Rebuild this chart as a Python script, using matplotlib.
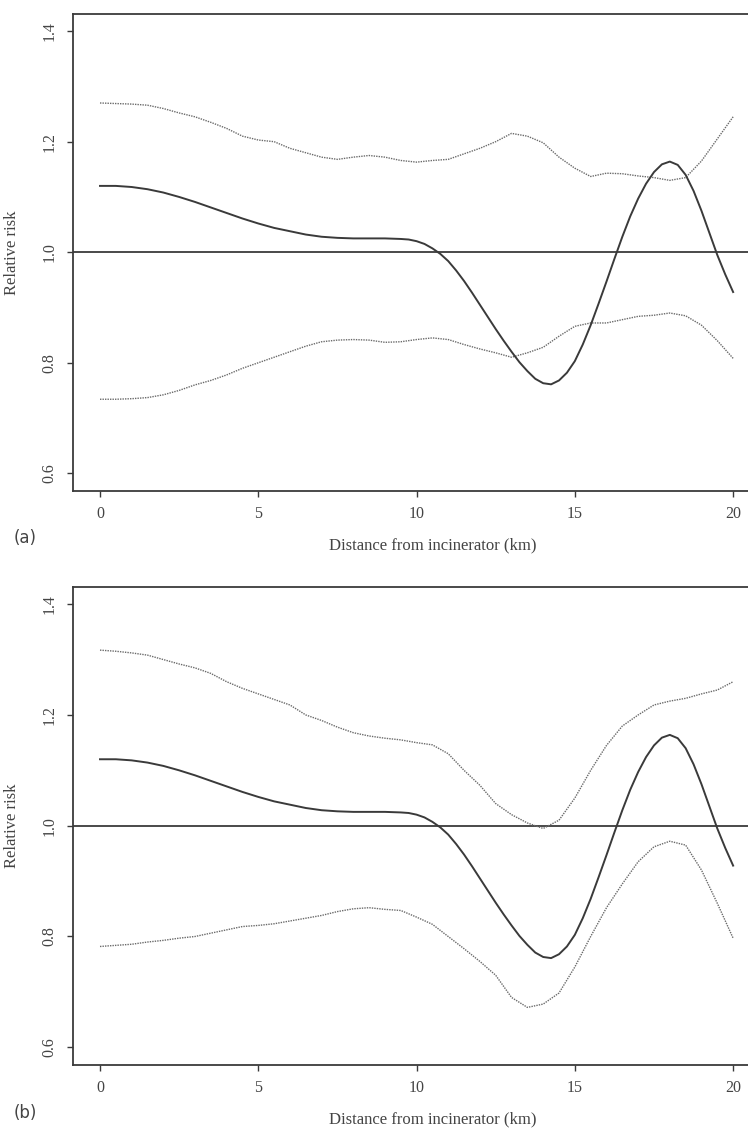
import numpy as np
import matplotlib
matplotlib.use("Agg")
import matplotlib.pyplot as plt
import matplotlib as mpl

mpl.rcParams['font.family'] = ['Liberation Serif', 'DejaVu Serif']

# distance from incinerator (km) for the confidence bands
dist = [0, 0.5, 1, 1.5, 2, 2.5, 3, 3.5, 4, 4.5, 5, 5.5, 6, 6.5, 7, 7.5, 8, 8.5, 9, 9.5,
        10, 10.5, 11, 11.5, 12, 12.5, 13, 13.5, 14, 14.5, 15, 15.5, 16, 16.5, 17, 17.5,
        18, 18.5, 19, 19.5, 20]

# smoothed relative risk (same estimate in both panels), read more densely
dist_est = [0, 0.5, 1, 1.5, 2, 2.5, 3, 3.5, 4, 4.5, 5, 5.5, 6, 6.5, 7, 7.5, 8, 8.5, 9,
            9.5, 9.75, 10, 10.25, 10.5, 10.75, 11, 11.25, 11.5, 11.75, 12, 12.25, 12.5,
            12.75, 13, 13.25, 13.5, 13.75, 14, 14.25, 14.5, 14.75, 15, 15.25, 15.5, 15.75,
            16, 16.25, 16.5, 16.75, 17, 17.25, 17.5, 17.75, 18, 18.25, 18.5, 18.75, 19,
            19.25, 19.5, 19.75, 20]
rr_est = [1.12, 1.12, 1.118, 1.114, 1.108, 1.1, 1.091, 1.081, 1.071, 1.061, 1.052, 1.044,
          1.038, 1.032, 1.028, 1.026, 1.025, 1.025, 1.025,
          1.024, 1.023, 1.02, 1.015, 1.007, 0.997, 0.984, 0.967, 0.948, 0.927, 0.905, 0.883,
          0.861, 0.84, 0.82, 0.801, 0.785, 0.771, 0.763, 0.761, 0.768, 0.782, 0.803, 0.833,
          0.868, 0.907, 0.947, 0.988, 1.028, 1.065, 1.097, 1.124, 1.145, 1.159, 1.164, 1.158,
          1.14, 1.111, 1.075, 1.035, 0.995, 0.96, 0.928]

# panel (a) pointwise band
upper_a = [1.27, 1.269, 1.268, 1.266, 1.26, 1.252, 1.245, 1.235, 1.224, 1.21, 1.203, 1.2,
           1.188, 1.18, 1.172, 1.168, 1.172, 1.175, 1.172, 1.166, 1.163, 1.166, 1.168, 1.178,
           1.188, 1.2, 1.215, 1.21, 1.198, 1.172, 1.152, 1.137, 1.143, 1.142, 1.138, 1.135,
           1.13, 1.135, 1.165, 1.205, 1.245]
lower_a = [0.734, 0.734, 0.735, 0.737, 0.742, 0.75, 0.76, 0.768, 0.778, 0.79, 0.8, 0.81,
           0.82, 0.83, 0.838, 0.841, 0.842, 0.841, 0.837, 0.838, 0.842, 0.845, 0.842, 0.833,
           0.825, 0.818, 0.81, 0.818, 0.828, 0.848, 0.866, 0.872, 0.872, 0.878, 0.884, 0.886,
           0.89, 0.885, 0.868, 0.84, 0.808]

# panel (b) band
upper_b = [1.317, 1.315, 1.312, 1.308, 1.3, 1.292, 1.285, 1.275, 1.26, 1.248, 1.238, 1.228,
           1.218, 1.2, 1.19, 1.178, 1.168, 1.162, 1.158, 1.155, 1.15, 1.146, 1.13, 1.1,
           1.073, 1.04, 1.02, 1.005, 0.995, 1.01, 1.05, 1.1, 1.145, 1.18, 1.2, 1.218,
           1.225, 1.23, 1.238, 1.245, 1.26]
lower_b = [0.782, 0.784, 0.786, 0.79, 0.793, 0.797, 0.8, 0.806, 0.812, 0.818, 0.82, 0.823,
           0.828, 0.833, 0.838, 0.845, 0.85, 0.852, 0.849, 0.847, 0.835, 0.822, 0.8, 0.778,
           0.755, 0.73, 0.69, 0.672, 0.678, 0.698, 0.745, 0.8, 0.852, 0.895, 0.935, 0.962,
           0.972, 0.965, 0.92, 0.86, 0.797]

x_ticks = [0, 5, 10, 15, 20]
y_ticks = [0.6, 0.8, 1.0, 1.2, 1.4]

INK = '#3a3a3a'

fig = plt.figure(figsize=(7.48, 11.30), dpi=100)
ax_a = fig.add_axes([73/748, 1-491/1130, 1-73/748, 477/1130])
ax_b = fig.add_axes([73/748, 1-1065/1130, 1-73/748, 478/1130])

for ax, up, lo, tag, ytag in [(ax_a, upper_a, lower_a, "(a)", 538),
                              (ax_b, upper_b, lower_b, "(b)", 1113)]:
    ax.axhline(1.0, color=INK, lw=1.3)
    ax.plot(dist, up, color='#6a6a6a', lw=1.0, ls=(0, (1, 0.8)))
    ax.plot(dist, lo, color='#6a6a6a', lw=1.0, ls=(0, (1, 0.8)))
    ax.plot(dist_est, rr_est, color=INK, lw=1.4)

    ax.set_xlim(-0.853, 20.47)
    ax.set_ylim(0.568, 1.431)
    ax.set_xticks(x_ticks)
    ax.set_yticks(y_ticks)
    ax.set_yticklabels([f"{v:.1f}" for v in y_ticks], rotation=90, va='center')
    ax.tick_params(direction='out', length=4, width=1, color=INK,
                   labelcolor='#444', labelsize=11.5)
    ax.tick_params(axis='x', pad=7)
    ax.tick_params(axis='y', pad=7)
    ax.spines['right'].set_visible(False)
    for s in ['left', 'bottom', 'top']:
        ax.spines[s].set_color(INK)
        ax.spines[s].set_linewidth(1.3)

    ax.set_ylabel("Relative risk", fontsize=12, color='#444')
    ax.yaxis.set_label_coords(-0.078, 0.5)
    ax.set_xlabel("Distance from incinerator (km)", fontsize=12, color='#444')
    ax.xaxis.set_label_coords(0.533, -0.097)

    fig.text(25/748, 1-ytag/1130, tag, fontsize=12, color='#444',
             ha='center', va='center', family=['DejaVu Sans'])

fig.savefig("out.png", dpi=100, facecolor='white')
